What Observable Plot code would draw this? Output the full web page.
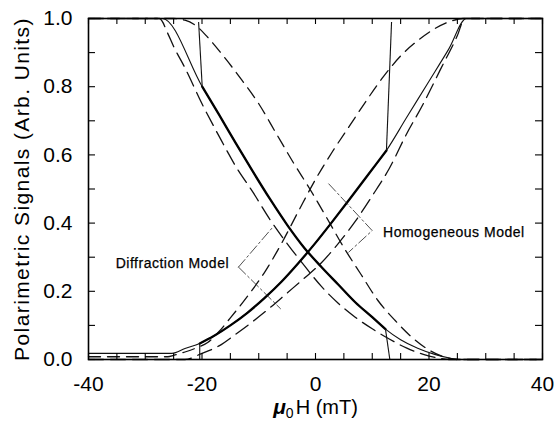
<!DOCTYPE html>
<html>
<head>
<meta charset="utf-8">
<script src="https://cdn.jsdelivr.net/npm/d3@7"></script>
<script src="https://cdn.jsdelivr.net/npm/@observablehq/plot@0.6"></script>
<style>
  html, body { margin: 0; padding: 0; background: #fff; }
  #chart svg { display: block; }
</style>
</head>
<body>
<div id="chart"></div>
<script>
// ---- Data ----
// Solid curve, decreasing branch (thick between the two jumps)
const tdX = [-40, -27, -19.96, -17, -14, -11, -8, -5, -2, 1, 4, 7, 10, 12.33, 15, 18, 21, 24, 25.5, 40];
const tdY = [1, 1, 0.80, 0.718, 0.633, 0.55, 0.47, 0.395, 0.328, 0.272, 0.22, 0.168, 0.124, 0.089, 0.058, 0.033, 0.015, 0.003, 0, 0];
const tdThick = [-19.96, 12.33];
// Solid curve, increasing branch
const tiX = [-40, -25.3, -23, -20.4, -18, -15, -12, -9, -6, -3, 0, 3, 6, 9, 12.5, 16, 20, 23.5, 26.6, 40];
const tiY = [0.018, 0.018, 0.032, 0.047, 0.068, 0.1, 0.137, 0.18, 0.228, 0.283, 0.342, 0.405, 0.47, 0.536, 0.613, 0.708, 0.816, 0.911, 1, 1];
const tiThick = [-20.4, 12.5];
// Jumps (thin vertical lines)
const jumpX1 = [-20.6, -20.4, 13.4, 12.33];
const jumpY1 = [0.99, 0.047, 0.99, 0.089];
const jumpX2 = [-19.96, -20.4, 12.5, 13.1];
const jumpY2 = [0.80, 0, 0.613, 0];
// Diffraction model (long dashes), decreasing / increasing
const bX = [-40, -27.5, -26, -25, -23, -20, -17, -14, -11, -8, -5, -2, 1, 4, 7, 10, 13, 16, 19, 22, 23.5, 40];
const bY = [1, 1, 0.955, 0.918, 0.855, 0.75, 0.655, 0.565, 0.49, 0.41, 0.34, 0.276, 0.215, 0.165, 0.124, 0.09, 0.06, 0.034, 0.015, 0.003, 0, 0];
const eX = [-40, -23, -20, -17, -14, -11, -8, -5, -2, 1, 4, 7, 10, 13, 16, 19, 22, 25, 26.3, 40];
const eY = [0, 0, 0.018, 0.04, 0.075, 0.112, 0.152, 0.195, 0.238, 0.283, 0.34, 0.405, 0.48, 0.56, 0.66, 0.75, 0.85, 0.95, 1, 1];
// Homogeneous model (dashes), decreasing / increasing
const cX = [-40, -25, -23, -21, -19, -16, -13, -10, -7, -4, -1, 2, 5, 8, 11, 14, 17, 20, 23, 25, 40];
const cY = [1, 1, 0.995, 0.978, 0.945, 0.885, 0.82, 0.75, 0.665, 0.58, 0.5, 0.415, 0.328, 0.25, 0.173, 0.115, 0.065, 0.028, 0.006, 0, 0];
const dX = [-40, -26, -25, -23, -21, -19, -17, -15, -12, -9, -6, -3, 0, 3, 6, 9, 12, 15, 18, 21, 24, 26, 40];
const dY = [0.008, 0.008, 0.012, 0.022, 0.034, 0.05, 0.082, 0.122, 0.185, 0.255, 0.34, 0.435, 0.528, 0.61, 0.685, 0.76, 0.83, 0.89, 0.935, 0.97, 0.993, 1, 1];
// Annotation leaders
const leadX = [-13.57, -7.58, -13.57, -6.17, 2.34, 9.99, 5.87];
const leadY = [0.271, 0.387, 0.271, 0.149, 0.515, 0.378, 0.315];
const leadG = ["d1", "d1", "d2", "d2", "h", "h", "h"];
const annText = ["Diffraction Model", "Homogeneous Model"];
const annX = [-35.2, 11.9];
const annY = [0.282, 0.373];
// Axes
const xTickLabels = [-40, -20, 0, 20, 40];
const yTickLabels = [0, 0.2, 0.4, 0.6, 0.8, 1.0];
const xMinor = [-40, -35, -30, -25, -20, -15, -10, -5, 0, 5, 10, 15, 20, 25, 30, 35, 40];
const yMinor = [0, 0.1, 0.2, 0.3, 0.4, 0.5, 0.6, 0.7, 0.8, 0.9, 1.0];
const yTitle = "Polarimetric Signals (Arb. Units)";
const xTitle = "μ0H (mT)";

// ---- Build ----
const W = 556, H = 421, mL = 88, mR = 14, mT = 18, mB = 62;
const innerW = W - mL - mR, innerH = H - mT - mB;
const pts = (xs, ys) => xs.map((x, i) => ({x, y: ys[i]}));
const td = pts(tdX, tdY), ti = pts(tiX, tiY);
const bD = pts(bX, bY), eD = pts(eX, eY), cD = pts(cX, cY), dD = pts(dX, dY);
const jumps = jumpX1.map((x, i) => ({x1: x, y1: jumpY1[i], x2: jumpX2[i], y2: jumpY2[i]}));
const leaders = leadX.map((x, i) => ({x, y: leadY[i], g: leadG[i]}));
const ann = annText.map((t, i) => ({t, x: annX[i], y: annY[i]}));
const font = "'Liberation Sans', Arial, Helvetica, sans-serif";

const chart = Plot.plot({
  width: W, height: H,
  marginLeft: mL, marginRight: mR, marginTop: mT, marginBottom: mB,
  x: {domain: [-40, 40]},
  y: {domain: [0, 1]},
  style: {fontFamily: font, background: "#fff", color: "#000"},
  marks: [
    // curves
    Plot.line(cD, {x: "x", y: "y", curve: "monotone-x", stroke: "#111", strokeWidth: 1.3, strokeDasharray: "12,7"}),
    Plot.line(dD, {x: "x", y: "y", curve: "monotone-x", stroke: "#111", strokeWidth: 1.3, strokeDasharray: "12,7"}),
    Plot.line(bD, {x: "x", y: "y", curve: "monotone-x", stroke: "#111", strokeWidth: 1.3, strokeDasharray: "15,7"}),
    Plot.line(eD, {x: "x", y: "y", curve: "monotone-x", stroke: "#111", strokeWidth: 1.3, strokeDasharray: "15,7"}),
    Plot.line(td, {x: "x", y: "y", curve: "monotone-x", stroke: "#111", strokeWidth: 1.1}),
    Plot.line(ti, {x: "x", y: "y", curve: "monotone-x", stroke: "#111", strokeWidth: 1.1}),
    Plot.line(td.filter(d => d.x >= tdThick[0] && d.x <= tdThick[1]), {x: "x", y: "y", curve: "monotone-x", stroke: "#000", strokeWidth: 2.3}),
    Plot.line(ti.filter(d => d.x >= tiThick[0] && d.x <= tiThick[1]), {x: "x", y: "y", curve: "monotone-x", stroke: "#000", strokeWidth: 2.3}),
    Plot.link(jumps, {x1: "x1", y1: "y1", x2: "x2", y2: "y2", stroke: "#111", strokeWidth: 1.1}),
    // leaders and labels
    Plot.line(leaders, {x: "x", y: "y", z: "g", stroke: "#222", strokeWidth: 0.8, strokeDasharray: "10,3,2,3"}),
    Plot.text(ann, {x: "x", y: "y", text: "t", textAnchor: "start", fontSize: 14, fill: "#000", stroke: "#000", strokeWidth: 0.25}),
    // frame & ticks
    Plot.frame({stroke: "#000", strokeWidth: 1.6}),
    Plot.ruleX(xMinor, {insetTop: innerH - 6, stroke: "#000", strokeWidth: 1.1}),
    Plot.ruleX(xMinor, {insetBottom: innerH - 6, stroke: "#000", strokeWidth: 1.1}),
    Plot.ruleY(yMinor, {insetRight: innerW - 7, stroke: "#000", strokeWidth: 1.1}),
    Plot.ruleY(yMinor, {insetLeft: innerW - 7, stroke: "#000", strokeWidth: 1.1}),
    Plot.axisX({ticks: xTickLabels, tickSize: 0, tickPadding: 17, fontSize: 21, label: null, tickFormat: d => (d < 0 ? "-" : "") + Math.abs(d)}),
    Plot.axisY({ticks: yTickLabels, tickSize: 0, tickPadding: 16, fontSize: 21, label: null, tickFormat: d => d.toFixed(1)}),
    Plot.text([yTitle], {frameAnchor: "left", textAnchor: "middle", dx: -66, rotate: -90, fontSize: 21, fill: "#000"}),
    Plot.text([xTitle], {frameAnchor: "bottom", textAnchor: "middle", dy: 54, fontSize: 20, fill: "#000"})
  ]
});
document.getElementById("chart").append(chart);

// Post styling: letter spacing, rich x title
const svg = d3.select(chart);
svg.selectAll("text").filter(function() { return this.textContent === yTitle; })
  .style("letter-spacing", "1.4px");
svg.selectAll("text").filter(function() { return annText.includes(this.textContent); })
  .style("letter-spacing", "0.5px");
svg.selectAll("text").filter(function() { return this.textContent === xTitle; })
  .each(function() {
    const t = d3.select(this);
    t.text(null);
    t.append("tspan").attr("font-style", "italic").attr("font-weight", "bold").attr("font-size", 21).text("μ");
    t.append("tspan").attr("font-size", 14).attr("dy", 4).text("0");
    t.append("tspan").attr("dy", -4).attr("dx", 2).text("H (mT)");
  });
</script>
</body>
</html>
